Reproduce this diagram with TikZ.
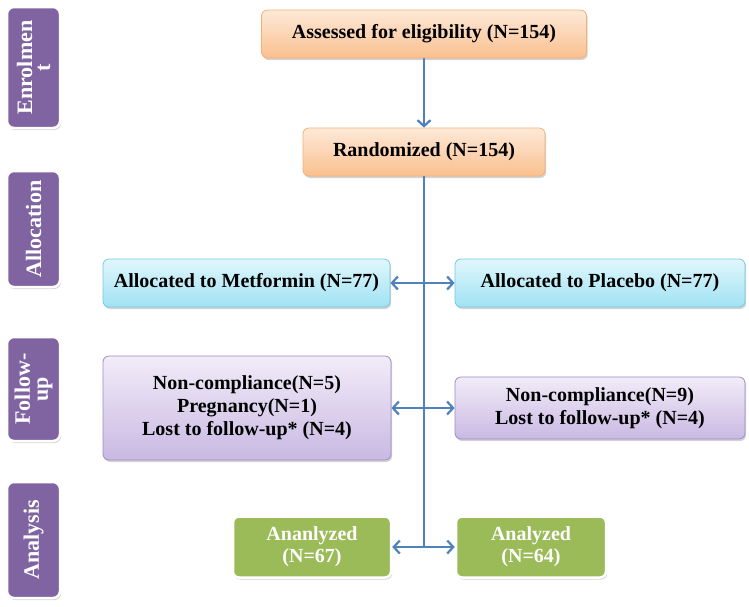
\documentclass[tikz,border=0pt]{standalone}
\usepackage{fontspec}
\setmainfont{Liberation Serif}
\usepackage{tikz}
\usetikzlibrary{shadows, arrows.meta, calc}
\definecolor{flowBlue}{RGB}{79, 129, 189}
\definecolor{sidePurple}{RGB}{128, 100, 162}
\definecolor{resultGreen}{RGB}{155, 187, 89}
\definecolor{orangeTop}{RGB}{253, 233, 216}
\definecolor{orangeBottom}{RGB}{250, 192, 143}
\definecolor{orangeEdge}{RGB}{245, 176, 118}
\definecolor{cyanTop}{RGB}{224, 247, 252}
\definecolor{cyanBottom}{RGB}{160, 226, 244}
\definecolor{cyanEdge}{RGB}{118, 200, 226}
\definecolor{lilacTop}{RGB}{242, 236, 248}
\definecolor{lilacBottom}{RGB}{201, 185, 227}
\definecolor{lilacEdge}{RGB}{158, 138, 198}
\newcommand{\sideX}{33.5}
\newcommand{\sideStages}{%
    {Enrolmen\\t}/67.5/121,
    {Allocation}/229/116,
    {Follow-\\up}/389/104,
    {Analysis}/540/116%
}

\begin{document}
\begin{tikzpicture} [
        x=1pt, y=-1pt,
        shade/.style={drop shadow={opacity=.35, shadow xshift=1.2pt, shadow yshift=-2pt}},
        box/.style={shade, rounded corners=6pt, line width=.8pt, minimum height=48pt, inner sep=4pt, align=center, font=\fontsize{20}{23}\selectfont\bfseries},
        screen/.style={box, draw=orangeEdge, top color=orangeTop, bottom color=orangeBottom},
        arm/.style={box, draw=cyanEdge, top color=cyanTop, bottom color=cyanBottom},
        loss/.style={box, draw=lilacEdge, top color=lilacTop, bottom color=lilacBottom},
        result/.style={box, draw=white, line width=2.5pt, fill=resultGreen, text=white, font=\fontsize{20}{22}\selectfont\bfseries},
        stage/.style={shade, draw=white, line width=2.5pt, fill=sidePurple, rounded corners=7pt, minimum width=53pt},
        stage text/.style={rotate=90, text=white, align=center, inner sep=0pt, font=\fontsize{22}{18}\selectfont\bfseries},
        flow/.style={draw=flowBlue, line width=2.2pt},
        link/.style={flow, -{Straight Barb[length=6pt, width=13pt]}},
        both/.style={flow, {Straight Barb[length=6pt, width=13pt]}-{Straight Barb[length=6pt, width=13pt]}},
    ]
    \useasboundingbox (0,0) rectangle (749,606);

    % stages on the left
    \foreach \label/\y/\h [count=\i from 1] in \sideStages {
        \node[stage, minimum height=\h pt] (stage \i) at (\sideX,\y) {};
        \node[stage text] (stage text \i) at (stage \i.center) {\label};
    }

    \node[screen, minimum width=325pt] (assess) at (424,34) {Assessed for eligibility (N=154)};
    \node[screen, minimum width=242pt] (random) at (424,152) {Randomized (N=154)};

    \node[arm, minimum width=287pt] (metformin) at (246.5,283) {Allocated to Metformin (N=77)};
    \node[arm, minimum width=290pt] (placebo) at (600,283) {Allocated to Placebo (N=77)};

    \node[loss, minimum width=288pt, minimum height=104pt] (lost met) at (247,408) {Non-compliance(N=5)\\Pregnancy(N=1)\\Lost to follow-up* (N=4)};
    \node[loss, minimum width=290pt, minimum height=62pt] (lost pla) at (600,408) {Non-compliance(N=9)\\Lost to follow-up* (N=4)};

    \node[result, minimum width=158pt, minimum height=61pt] (analysed met) at (312,547) {Ananlyzed\\(N=67)};
    \node[result, minimum width=150pt, minimum height=61pt] (analysed pla) at (531,547) {Analyzed\\(N=64)};

    \coordinate (trunk end) at (random |- analysed met);
    \draw[link] (assess) -- (random);
    \draw[flow] (random) -- (trunk end);
    \draw[both] (metformin) -- (placebo);
    \draw[both] (lost met) -- (lost pla);
    \draw[both] (analysed met) -- (analysed pla);
\end{tikzpicture}
\end{document}
